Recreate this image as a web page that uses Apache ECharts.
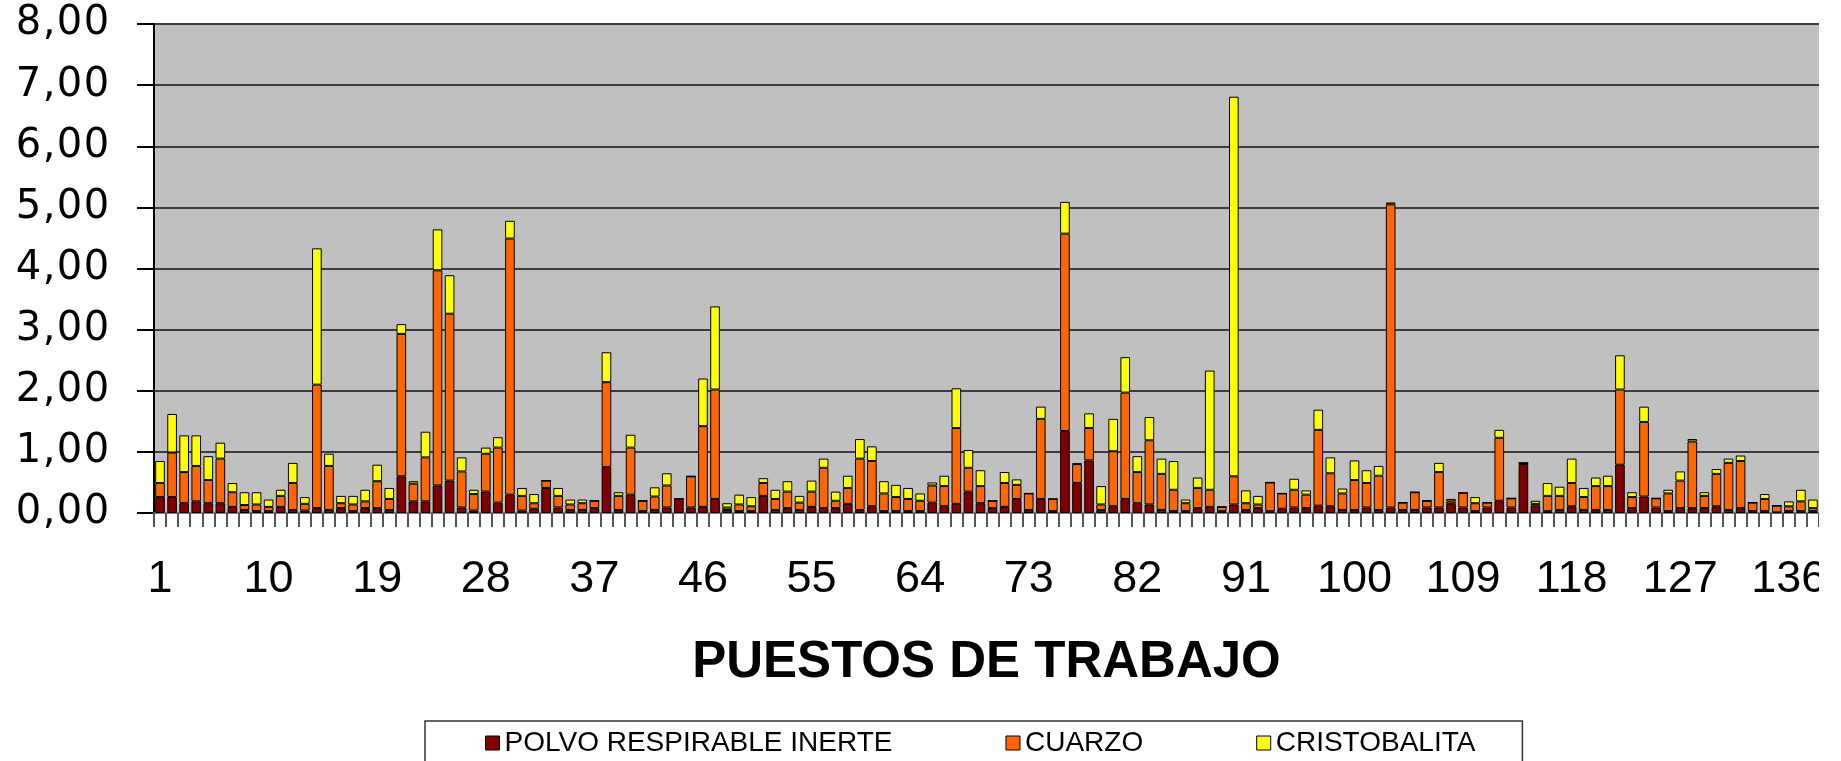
<!DOCTYPE html>
<html>
<head>
<meta charset="utf-8">
<title>Puestos de trabajo</title>
<script src="https://cdn.jsdelivr.net/npm/echarts@6/dist/echarts.min.js"></script>
<style>
  html, body { margin: 0; padding: 0; background: #fff; }
  #main { width: 1841px; height: 761px; }
</style>
</head>
<body>
<div id="main"></div>
<script>
// datos (mg/m3 por puesto)
const puestos = [];
for (let i = 1; i <= 138; i++) puestos.push(String(i));

const polvo = [
  0.26, 0.26, 0.16, 0.19, 0.16, 0.16, 0.10, 0.05, 0.03, 0.03,
  0.10, 0.05, 0.04, 0.08, 0.05, 0.08, 0.03, 0.08, 0.08, 0.05,
  0.60, 0.19, 0.19, 0.45, 0.53, 0.09, 0.04, 0.35, 0.17, 0.30,
  0.04, 0.07, 0.41, 0.09, 0.05, 0.05, 0.08, 0.75, 0.05, 0.30,
  0.03, 0.05, 0.09, 0.23, 0.09, 0.10, 0.23, 0.05, 0.03, 0.03,
  0.28, 0.05, 0.08, 0.05, 0.10, 0.08, 0.08, 0.15, 0.05, 0.11,
  0.03, 0.03, 0.03, 0.03, 0.17, 0.11, 0.15, 0.35, 0.16, 0.08,
  0.10, 0.23, 0.05, 0.23, 0.03, 1.34, 0.49, 0.86, 0.05, 0.11,
  0.23, 0.16, 0.14, 0.05, 0.03, 0.03, 0.08, 0.10, 0.03, 0.14,
  0.05, 0.08, 0.03, 0.07, 0.09, 0.08, 0.12, 0.11, 0.05, 0.05,
  0.09, 0.05, 0.09, 0.05, 0.05, 0.09, 0.09, 0.15, 0.09, 0.03,
  0.09, 0.20, 0.09, 0.80, 0.12, 0.03, 0.05, 0.11, 0.05, 0.05,
  0.05, 0.79, 0.08, 0.27, 0.09, 0.03, 0.08, 0.08, 0.08, 0.11,
  0.05, 0.08, 0.03, 0.03, 0.01, 0.03, 0.03, 0.03
];
const cuarzo = [
  0.23, 0.73, 0.51, 0.58, 0.38, 0.73, 0.24, 0.08, 0.11, 0.07,
  0.18, 0.44, 0.11, 2.02, 0.72, 0.08, 0.11, 0.11, 0.44, 0.18,
  2.33, 0.29, 0.72, 3.52, 2.73, 0.59, 0.27, 0.62, 0.90, 4.19,
  0.24, 0.09, 0.12, 0.19, 0.09, 0.11, 0.12, 1.39, 0.23, 0.77,
  0.17, 0.22, 0.36, 0.00, 0.51, 1.32, 1.79, 0.04, 0.11, 0.08,
  0.21, 0.18, 0.27, 0.12, 0.25, 0.66, 0.12, 0.26, 0.84, 0.74,
  0.29, 0.23, 0.20, 0.17, 0.28, 0.33, 1.24, 0.39, 0.28, 0.12,
  0.39, 0.23, 0.27, 1.31, 0.20, 3.23, 0.31, 0.53, 0.09, 0.90,
  1.74, 0.51, 1.05, 0.59, 0.35, 0.13, 0.33, 0.28, 0.07, 0.46,
  0.11, 0.06, 0.47, 0.25, 0.29, 0.22, 1.24, 0.54, 0.27, 0.49,
  0.40, 0.56, 4.96, 0.12, 0.29, 0.11, 0.58, 0.04, 0.24, 0.13,
  0.08, 1.03, 0.15, 0.02, 0.03, 0.25, 0.23, 0.38, 0.21, 0.39,
  0.39, 1.23, 0.18, 1.22, 0.15, 0.29, 0.45, 1.09, 0.20, 0.53,
  0.77, 0.77, 0.14, 0.20, 0.11, 0.08, 0.16, 0.05
];
const cristobalita = [
  0.36, 0.63, 0.60, 0.50, 0.39, 0.26, 0.15, 0.21, 0.20, 0.12,
  0.10, 0.33, 0.11, 2.23, 0.20, 0.12, 0.14, 0.19, 0.27, 0.18,
  0.16, 0.04, 0.42, 0.67, 0.63, 0.23, 0.07, 0.10, 0.17, 0.29,
  0.13, 0.15, 0.00, 0.13, 0.08, 0.06, 0.00, 0.49, 0.06, 0.21,
  0.00, 0.15, 0.20, 0.00, 0.00, 0.78, 1.36, 0.07, 0.16, 0.15,
  0.08, 0.15, 0.17, 0.11, 0.18, 0.15, 0.15, 0.20, 0.32, 0.24,
  0.20, 0.20, 0.18, 0.12, 0.05, 0.17, 0.65, 0.29, 0.26, 0.00,
  0.18, 0.09, 0.00, 0.20, 0.00, 0.52, 0.01, 0.24, 0.30, 0.53,
  0.58, 0.26, 0.38, 0.25, 0.47, 0.06, 0.17, 1.95, 0.00, 6.21,
  0.21, 0.14, 0.00, 0.00, 0.18, 0.07, 0.33, 0.26, 0.08, 0.32,
  0.21, 0.16, 0.03, 0.00, 0.00, 0.00, 0.15, 0.04, 0.00, 0.10,
  0.00, 0.13, 0.00, 0.00, 0.05, 0.21, 0.15, 0.40, 0.15, 0.14,
  0.17, 0.56, 0.08, 0.25, 0.00, 0.06, 0.15, 0.04, 0.06, 0.08,
  0.07, 0.09, 0.00, 0.08, 0.00, 0.08, 0.19, 0.14
];
const yTicks = { min: 0, max: 8, interval: 1 };

const myChart = echarts.init(document.getElementById('main'), null, { renderer: 'canvas' });

const barStyle = (color) => ({
  color: color,
  borderColor: '#000',
  borderWidth: 1
});

// etiquetas del eje Y: en el original salen algo estiradas a lo ancho,
// cada caracter va en su propia caja para imitarlo
function yLabel(v) {
  const s = v.toFixed(2).replace('.', ',');
  return s.split('').map((ch) => (ch === ',' ? '{c|,}' : '{d|' + ch + '}')).join('');
}
const yFont = { fontSize: 40, fontFamily: 'DejaVu Sans, sans-serif', color: '#000', align: 'center' };

const option = {
  backgroundColor: '#fff',
  animation: false,
  textStyle: { fontFamily: 'Liberation Sans, Arial, sans-serif', color: '#000' },
  grid: {
    left: 154,
    right: 22,
    top: 24,
    bottom: 248,
    show: true,
    backgroundColor: '#c0c0c0',
    borderWidth: 0
  },
  legend: {
    data: ['POLVO RESPIRABLE INERTE', 'CUARZO', 'CRISTOBALITA'],
    left: 425,
    top: 721,
    padding: [8, 47, 40, 60],
    itemGap: 113,
    itemWidth: 14,
    itemHeight: 14,
    icon: 'rect',
    borderColor: '#333',
    borderWidth: 1.5,
    textStyle: { fontSize: 28, color: '#000', fontFamily: 'Liberation Sans, Arial, sans-serif' },
    itemStyle: { borderColor: '#000', borderWidth: 1 }
  },
  xAxis: {
    type: 'category',
    data: puestos,
    name: 'PUESTOS DE TRABAJO',
    nameLocation: 'middle',
    nameGap: 124,
    nameTextStyle: { fontSize: 51, fontWeight: 'bold', color: '#000' },
    axisLine: { lineStyle: { color: '#808080', width: 2 } },
    axisTick: { show: true, interval: 0, length: 14, lineStyle: { color: '#555', width: 2 } },
    axisLabel: { interval: 8, fontSize: 45, margin: 44, color: '#000' }
  },
  yAxis: {
    type: 'value',
    min: yTicks.min,
    max: yTicks.max,
    interval: yTicks.interval,
    axisLine: { show: true, lineStyle: { color: '#000', width: 2 } },
    axisTick: { show: true, length: 17, lineStyle: { color: '#000', width: 2 } },
    axisLabel: {
      margin: 44,
      formatter: yLabel,
      rich: {
        d: Object.assign({ width: 27 }, yFont),
        c: Object.assign({ width: 14 }, yFont)
      }
    },
    splitLine: { lineStyle: { color: '#3c3c3c', width: 2 } }
  },
  series: [
    {
      name: 'POLVO RESPIRABLE INERTE',
      type: 'bar',
      stack: 'total',
      barCategoryGap: '20%',
      itemStyle: barStyle('#800000'),
      data: polvo
    },
    {
      name: 'CUARZO',
      type: 'bar',
      stack: 'total',
      itemStyle: barStyle('#ff6600'),
      data: cuarzo
    },
    {
      name: 'CRISTOBALITA',
      type: 'bar',
      stack: 'total',
      itemStyle: barStyle('#ffff00'),
      data: cristobalita
    }
  ],
  // franja derecha: la imagen original esta recortada en ese borde
  graphic: [
    {
      type: 'rect',
      right: 0,
      top: 0,
      z: 100,
      shape: { width: 22, height: 761 },
      style: { fill: '#fff' }
    }
  ]
};

myChart.setOption(option);
</script>
</body>
</html>
